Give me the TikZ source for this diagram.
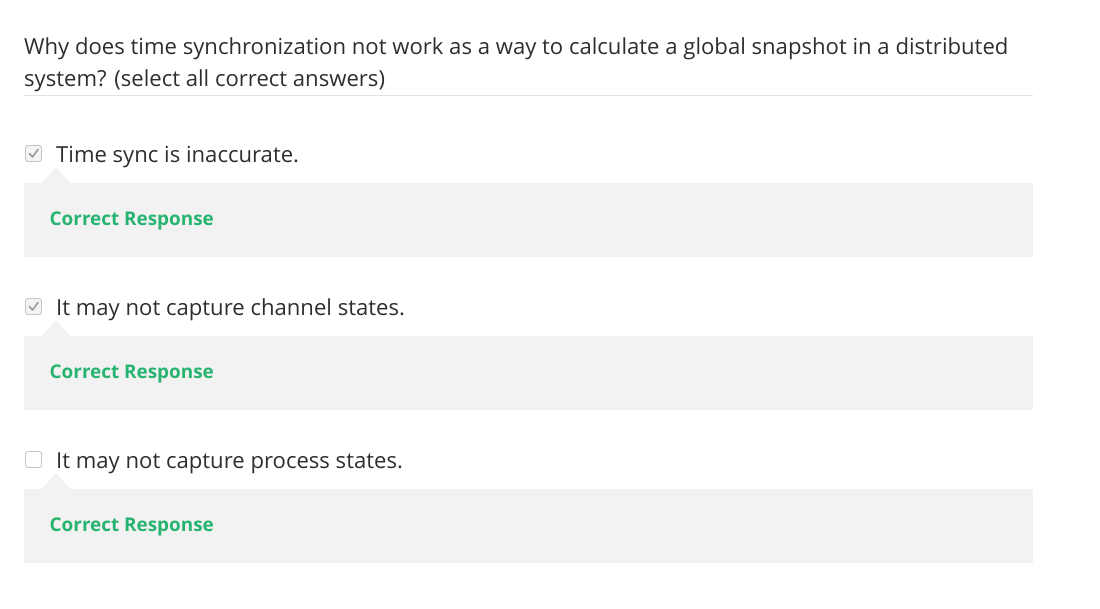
\documentclass[tikz,border=0pt]{standalone}
\usepackage{fontspec}
\setmainfont{Open Sans}
\definecolor{txt}{HTML}{2E2E2E}
\definecolor{panel}{HTML}{F2F2F2}
\definecolor{ptr}{HTML}{F2F2F2}
\definecolor{rule}{HTML}{E2E2E2}
\definecolor{okgreen}{HTML}{27B470}
\definecolor{cbborder}{HTML}{C6C6C6}
\definecolor{cbfill}{HTML}{F4F4F4}
\definecolor{tick}{HTML}{9A9A9A}
\tikzset{
  qtext/.style={anchor=base west, inner sep=0pt, text=txt, font=\fontsize{22.1}{26}\selectfont},
  atext/.style={anchor=base west, inner sep=0pt, text=txt, font=\fontsize{22.1}{26}\selectfont},
  resp/.style={anchor=base west, inner sep=0pt, text=okgreen, font=\fontsize{18.9}{22}\selectfont\bfseries},
  panelbox/.style={fill=panel, draw=none},
  cbox/.style={draw=cbborder, line width=0.9pt, rounded corners=2.5pt},
  tickmark/.style={draw=tick, line width=1.6pt, line cap=round, line join=round}
}
\begin{document}
\begin{tikzpicture}[x=1pt,y=-1pt]
\useasboundingbox (0,0) rectangle (1100,608);
\node[qtext] (q1) at (24,54) {Why does time synchronization not work as a way to calculate a global snapshot in a distributed};
\node[qtext] (q2) at (24,86) {system? (select all correct answers)};
\draw[rule, line width=1pt] (24,95.5) -- (1033,95.5);
% items
\foreach \i/\oy/\lab/\chk in {1/0/Time sync is inaccurate./1, 2/153/It may not capture channel states./1, 3/306/It may not capture process states./0}{
  \ifnum\chk=1
    \filldraw[cbox, fill=cbfill] (25.5,145.5+\oy) rectangle (41.5,161.5+\oy);
    \draw[tickmark] (29.5,153.5+\oy) -- (32.5,157+\oy) -- (38,149.5+\oy);
  \else
    \filldraw[cbox, fill=white] (25.5,145.5+\oy) rectangle (41.5,161.5+\oy);
  \fi
  \node[atext] (a\i) at (56,162+\oy) {\lab};
  \fill[panelbox] (24,183+\oy) rectangle (1033,257+\oy);
  \fill[ptr] (41,183.5+\oy) -- (56,167.5+\oy) -- (71,183.5+\oy) -- cycle;
  \node[resp] (r\i) at (49.5,225.5+\oy) {Correct Response};
}
\end{tikzpicture}
\end{document}
